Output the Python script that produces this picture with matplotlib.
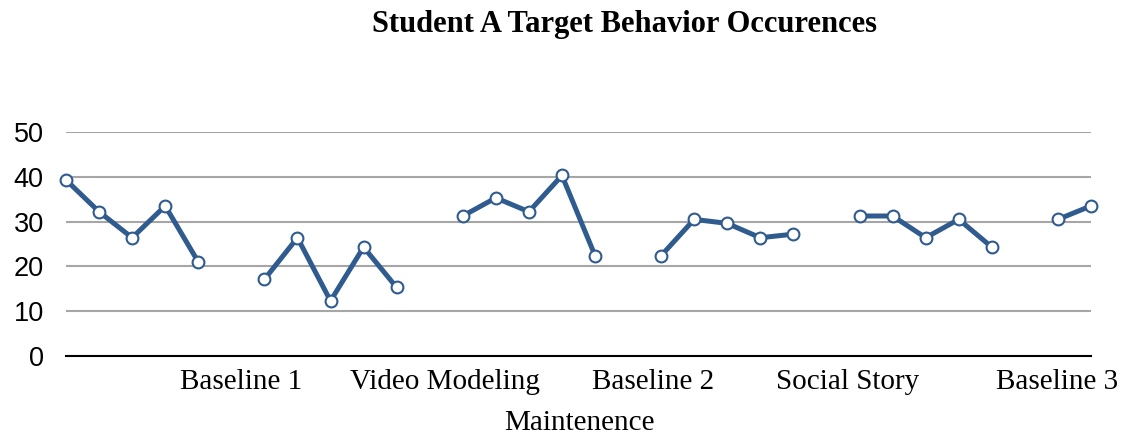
import numpy as np
import matplotlib
matplotlib.use('Agg')
import matplotlib.pyplot as plt

# Số lần xuất hiện hành vi theo từng buổi (nan = khoảng trống giữa các giai đoạn)
occurrences = [39.3, 32.2, 26.4, 33.5, 21.0, np.nan,
               17.1, 26.4, 12.3, 24.3, 15.3, np.nan,
               31.25, 35.3, 32.2, 40.3, 22.4, np.nan,
               22.4, 30.5, 29.6, 26.4, 27.2, np.nan,
               31.25, 31.25, 26.4, 30.5, 24.3, np.nan,
               30.5, 33.5]
sessions = np.arange(len(occurrences))

phase_labels = ['Baseline 1', 'Video Modeling', 'Baseline 2', 'Social Story', 'Baseline 3']
phase_pos = [5.31, 11.45, 17.76, 23.63, 29.98]
extra_label = ['Maintenence']
extra_pos = [15.54]

y_ticks = [0, 10, 20, 30, 40, 50]

fig = plt.figure(figsize=(11.24, 4.36), dpi=100)
ax = fig.add_axes([66 / 1124, 80 / 436, (1091 - 66) / 1124, 224 / 436])

ax.plot(sessions, occurrences, color='#2F5B8F', linewidth=3.6,
        marker='o', markersize=8.5, markerfacecolor='white',
        markeredgecolor='#2F5B8F', markeredgewidth=1.5, clip_on=False, zorder=3)

ax.set_xlim(0, len(occurrences) - 1)
ax.set_ylim(0, 50)
ax.set_yticks(y_ticks)
ax.set_yticklabels([str(v) for v in y_ticks], fontfamily='Liberation Sans', fontsize=19.5)
ax.grid(axis='y', color='#A6A6A6', linewidth=1.5)
ax.set_axisbelow(True)

ax.set_xticks(phase_pos, phase_labels, fontfamily='Liberation Serif', fontsize=21)
ax.set_xticks(extra_pos, extra_label, minor=True, fontfamily='Liberation Serif', fontsize=21)
ax.tick_params(axis='x', which='major', length=0, pad=9)
ax.tick_params(axis='x', which='minor', length=0, pad=39)
ax.tick_params(axis='y', length=0, pad=16)

for side in ['top', 'right', 'left']:
    ax.spines[side].set_visible(False)
ax.spines['bottom'].set_color('black')
ax.spines['bottom'].set_linewidth(1.5)

fig.text(625 / 1124, 1 - 32 / 436, 'Student A Target Behavior Occurences',
         ha='center', va='baseline', fontfamily='Liberation Serif',
         fontweight='bold', fontsize=22)

fig.savefig('out.png', dpi=100, facecolor='white')
